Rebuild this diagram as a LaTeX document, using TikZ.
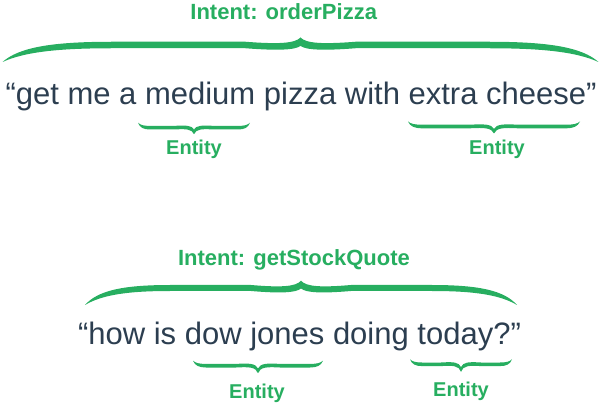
\documentclass[tikz,border=0pt]{standalone}
\usepackage{fontspec}
\setmainfont{Liberation Sans}
\usepackage{tikz}
\definecolor{intentgreen}{HTML}{27AE60}
\definecolor{phrasedark}{HTML}{2C3E50}
\tikzset{
  phrase/.style={inner sep=0pt, anchor=base, text=phrasedark, font=\fontsize{31}{36}\selectfont},
  tag/.style={inner sep=0pt, anchor=base, text=intentgreen, font=\fontsize{20}{24}\selectfont\bfseries},
  bigtag/.style={tag, font=\fontsize{22}{26}\selectfont\bfseries},
  % #1 half width, #2 curl, #3 tip run, #4 shoulder, #5 tip height, #6 thickness
  pics/curly/.style n args={6}{code={
    \fill[intentgreen]
      (-#1,0) .. controls ({-#1+0.15*#2},{0.75*#4+0.3*#6}) and ({-#1+0.45*#2},{#4+0.5*#6}) .. ({-#1+#2},{#4+0.5*#6})
      -- ({-#3},{#4+0.5*#6})
      .. controls ({-0.4*#3},{0.85*#4+0.5*#6}) and ({-0.1*#3},{0.9*#4+0.5*#6}) .. (0,#5)
      .. controls ({0.1*#3},{0.9*#4+0.5*#6}) and ({0.4*#3},{0.85*#4+0.5*#6}) .. ({#3},{#4+0.5*#6})
      -- ({#1-#2},{#4+0.5*#6})
      .. controls ({#1-0.45*#2},{#4+0.5*#6}) and ({#1-0.15*#2},{0.75*#4+0.3*#6}) .. (#1,0)
      .. controls ({#1-0.2*#2},{0.7*#4-0.3*#6}) and ({#1-0.5*#2},{#4-0.5*#6}) .. ({#1-#2},{#4-0.5*#6})
      -- ({#3},{#4-0.5*#6})
      .. controls ({0.4*#3},{0.85*#4-0.5*#6}) and ({0.1*#3},{0.9*#4-0.5*#6}) .. (0,{#5-1.3*#6})
      .. controls ({-0.1*#3},{0.9*#4-0.5*#6}) and ({-0.4*#3},{0.85*#4-0.5*#6}) .. ({-#3},{#4-0.5*#6})
      -- ({-#1+#2},{#4-0.5*#6})
      .. controls ({-#1+0.5*#2},{#4-0.5*#6}) and ({-#1+0.2*#2},{0.7*#4-0.3*#6}) .. cycle;
  }}
}

\begin{document}
\begin{tikzpicture}[x=1pt, y=1pt]
  \useasboundingbox (0,0) rectangle (602,407);

  % first example
  \node[bigtag] (intentA) at (283.7,387) {Intent: orderPizza};
  \pic at (300.5,345) {curly={298}{110}{55}{17}{24.5}{6.5}};
  \node[phrase] (sentA) at (301,302.7) {“get me a medium pizza with extra cheese”};
  \pic[yscale=-1] at (194,284.3) {curly={56}{12}{20}{5}{11.5}{3.6}};
  \pic[yscale=-1] at (494,285.5) {curly={86}{14}{24}{5}{12}{3.6}};
  \node[tag] (entA1) at (194,252) {Entity};
  \node[tag] (entA2) at (497,252) {Entity};

  % second example
  \node[bigtag] (intentB) at (294,141) {Intent: getStockQuote};
  \pic at (301,102) {curly={216}{85}{50}{17}{24.3}{6}};
  \node[phrase] (sentB) at (299.5,62.7) {“how is dow jones doing today?”};
  \pic[yscale=-1] at (258,46.3) {curly={65}{13}{22}{5}{12.5}{3.6}};
  \pic[yscale=-1] at (461,47.7) {curly={51}{12}{20}{5}{12.5}{3.6}};
  \node[tag] (entB1) at (257,8.7) {Entity};
  \node[tag] (entB2) at (461,10.3) {Entity};
\end{tikzpicture}
\end{document}
